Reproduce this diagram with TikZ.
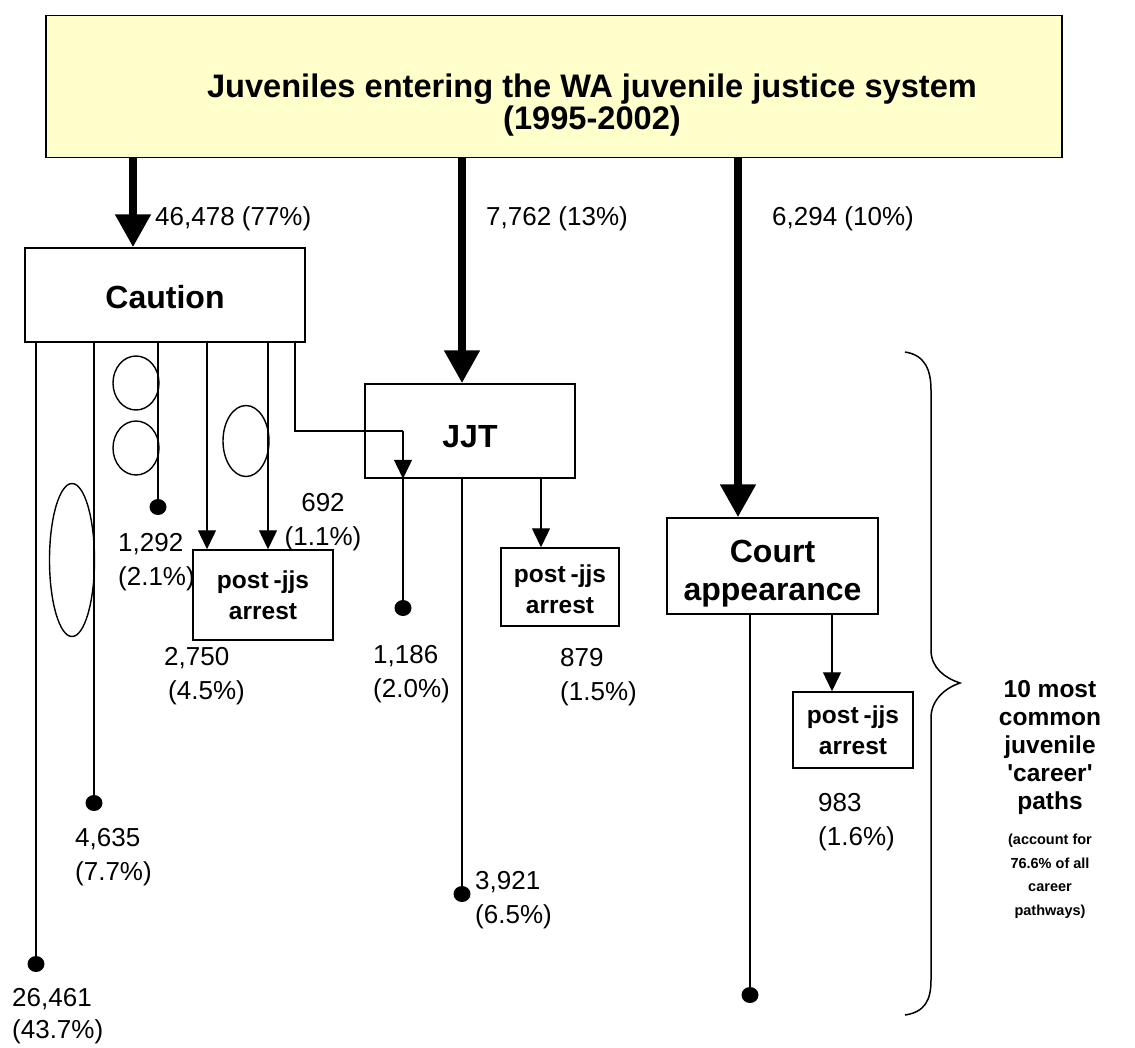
\documentclass[tikz,border=0pt]{standalone}
\usepackage{fontspec}
\setmainfont{Liberation Sans}
\usetikzlibrary{arrows.meta,shapes.geometric}
\definecolor{titlefill}{RGB}{255,255,204}
\begin{document}
\begin{tikzpicture}[x=1pt,y=-1pt,
  box/.style={draw, line width=1.5pt, inner sep=0pt, align=center, font=\bfseries\fontsize{32}{38}\selectfont},
  pbox/.style={draw, line width=1.5pt, inner sep=0pt, align=center, font=\bfseries\fontsize{24.5}{31}\selectfont},
  num/.style={inner sep=0pt, align=left, anchor=west, font=\fontsize{26}{34}\selectfont},
  link/.style={line width=1.4pt},
  thinarr/.style={line width=1.4pt, -{Triangle[width=18pt,length=19pt]}},
  thickarr/.style={line width=8pt, -{Triangle[width=34pt,length=33pt]}},
  dot/.style={ellipse, fill, inner sep=0pt, minimum width=17pt, minimum height=16pt},
  oval/.style={draw, ellipse, line width=1.4pt, inner sep=0pt},
]
\useasboundingbox (0,0) rectangle (1135,1047);

% title
\node[box, fill=titlefill, minimum width=1016pt, minimum height=142pt] (title) at (554,86.5) {};
\node[font=\bfseries\fontsize{32.6}{29}\selectfont, align=center, inner sep=0pt] (ttext) at (592,105) {Juveniles entering the WA juvenile justice system\\(1995-2002)};

% main boxes
\node[box, minimum width=280pt, minimum height=94pt] (caution) at (165,295) {\rule{0pt}{28pt}Caution};
\node[box, minimum width=210pt, minimum height=94pt] (jjt) at (470,431) {\rule{0pt}{33pt}JJT};
\node[box, minimum width=211pt, minimum height=96pt] (court) at (772.5,566) {\rule{0pt}{37pt}Court\\appearance};

% post-jjs boxes
\node[pbox, minimum width=140pt, minimum height=90pt] (pj1) at (263,595) {post\kern5pt-jjs\\arrest};
\node[pbox, minimum width=118pt, minimum height=78pt] (pj2) at (560,587) {\rule{0pt}{22pt}post\kern5pt-jjs\\arrest};
\node[pbox, minimum width=120pt, minimum height=76pt] (pj3) at (853,730) {post\kern5pt-jjs\\arrest};

% ovals
\node[oval, minimum width=46pt, minimum height=54pt] (o1) at (136,383) {};
\node[oval, minimum width=46pt, minimum height=54pt] (o2) at (136,448) {};
\node[oval, minimum width=46pt, minimum height=71pt] (o3) at (246,441) {};
\node[oval, minimum width=45pt, minimum height=153pt] (o4) at (72,560) {};

% dots
\node[dot] (d1) at (36,964) {};
\node[dot] (d2) at (94,803) {};
\node[dot] (d3) at (158,507) {};
\node[dot] (d4) at (403,608) {};
\node[dot] (d5) at (462,894) {};
\node[dot] (d6) at (750,995) {};

% helper coordinates
\coordinate (xa) at (133,0);
\coordinate (xb) at (462,0);
\coordinate (xc) at (738,0);
\coordinate (x207) at (207,0);
\coordinate (x268) at (268,0);
\coordinate (x541) at (541,0);
\coordinate (x832) at (832,0);
\coordinate (bend1) at (295,431);
\coordinate (bend2) at (403,431);

% thick arrows from title
\draw[thickarr] (title.south -| xa) -- (caution.north -| xa);
\draw[thickarr] (title.south -| xb) -- (jjt.north -| xb);
\draw[thickarr] (title.south -| xc) -- (court.north -| xc);

% from caution
\draw[link] (caution.south -| d1) -- (d1.center);
\draw[link] (caution.south -| d2) -- (d2.center);
\draw[link] (caution.south -| d3) -- (d3.center);
\draw[thinarr] (caution.south -| x207) -- (pj1.north -| x207);
\draw[thinarr] (caution.south -| x268) -- (pj1.north -| x268);
\draw[link] (caution.south -| bend1) -- (bend1) -- (bend2);
\draw[thinarr] (bend2) -- (jjt.south -| bend2);
\draw[link] (jjt.south -| bend2) -- (d4.center);

% from JJT
\draw[link] (jjt.south -| d5) -- (d5.center);
\draw[thinarr] (jjt.south -| x541) -- (pj2.north -| x541);

% from court
\draw[link] (court.south -| d6) -- (d6.center);
\draw[thinarr] (court.south -| x832) -- (pj3.north -| x832);

% flow labels
\node[num] (l1) at (155,219) {46,478 (77\%)};
\node[num] (l2) at (486,219) {7,762 (13\%)};
\node[num] (l3) at (772,219) {6,294 (10\%)};

% end labels
\node[num] (n1) at (118,562) {1,292\\(2.1\%)};
\node[num, align=center, anchor=center] (n2) at (323,522) {692\\(1.1\%)};
\node[num] (n3) at (164,676) {2,750\\\kern4pt(4.5\%)};
\node[num] (n4) at (373,674) {1,186\\(2.0\%)};
\node[num] (n5) at (560,677) {879\\(1.5\%)};
\node[num] (n6) at (818,822) {983\\(1.6\%)};
\node[num] (n7) at (75,857) {4,635\\(7.7\%)};
\node[num, font=\fontsize{26}{32}\selectfont] (n8) at (12,1016) {26,461\\(43.7\%)};
\node[num] (n9) at (475,900) {3,921\\(6.5\%)};

% brace
\draw[line width=1.5pt] (905,352) .. controls (925,355) and (931,370) .. (931,390) -- (931,650)
  .. controls (931,668) and (945,678) .. (960,683)
  .. controls (945,688) and (931,700) .. (931,718) -- (931,980)
  .. controls (931,1000) and (925,1012) .. (905,1015);

% right text
\node[font=\bfseries\fontsize{24.5}{28}\selectfont, align=center, inner sep=0pt] (rt) at (1050,747) {10 most\\common\\juvenile\\\textquotesingle career\textquotesingle\\paths};
\node[font=\bfseries\fontsize{14.5}{23.5}\selectfont, align=center, inner sep=0pt] (rs) at (1050,876) {(account for\\76.6\% of all\\career\\pathways)};
\end{tikzpicture}
\end{document}
